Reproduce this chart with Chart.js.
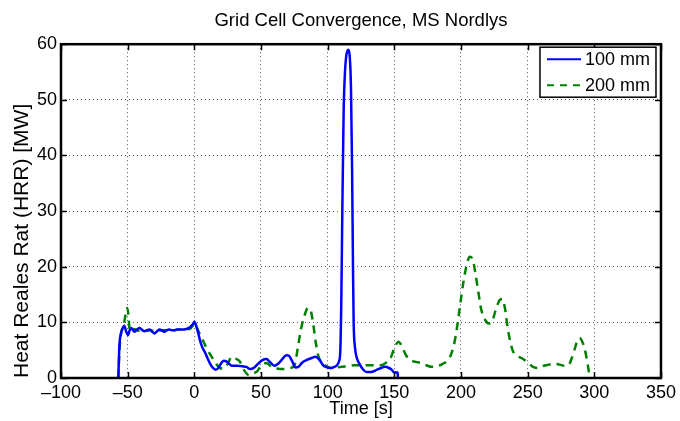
<!DOCTYPE html>
<html>
<head>
<meta charset="utf-8">
<script src="https://cdn.jsdelivr.net/npm/chart.js@4/dist/chart.umd.min.js"></script>
<style>
html,body{margin:0;padding:0;background:#fff;}
#wrap{width:680px;height:421px;}
</style>
</head>
<body>
<div id="wrap"><canvas id="c" width="680" height="421"></canvas></div>
<script>
const chartTitle = 'Grid Cell Convergence, MS Nordlys';
const xTitle = 'Time [s]';
const yTitle = 'Heat Reales Rat (HRR) [MW]';
const seriesNames = ['100 mm', '200 mm'];
const xTickValues = [-100, -50, 0, 50, 100, 150, 200, 250, 300, 350];
const yTickValues = [0, 10, 20, 30, 40, 50, 60];

const time100 = [-57, -56.5, -56, -55, -54, -52.5, -51.2, -49.8, -48.5, -47.3, -46, -44.8, -43, -41, -39, -37.3, -35.5, -33.5, -31.5, -29.9, -28, -26, -24, -22.4, -20.5, -18.7, -17, -15, -13, -11, -8.5, -6.2, -4, -2.5, -1, 0, 1.5, 3, 4, 6, 8, 10, 12, 14, 16, 18, 20, 22, 24, 26, 28, 32, 36, 39, 42, 45, 48, 51, 54, 57, 60, 63, 66, 69, 71, 73, 76, 78, 81, 84, 88, 91, 94, 97, 100, 103, 105, 107, 108.5, 109.5, 110.3, 111, 112, 113, 114, 115.5, 116.5, 117.5, 118.3, 119, 119.5, 120.5, 122, 124, 126, 129, 133, 137, 140, 143, 146, 148, 150, 152.5, 152.7];
const hrr100 = [0, 4, 6.5, 8, 8.8, 9.4, 8.4, 7.7, 8.6, 9.0, 8.6, 8.3, 8.7, 9.0, 8.6, 8.4, 8.6, 8.7, 8.3, 8.0, 8.4, 8.7, 8.5, 8.3, 8.6, 8.7, 8.6, 8.6, 8.7, 8.7, 8.7, 8.8, 9.0, 9.3, 9.7, 10.1, 9.3, 8.0, 7.0, 5.5, 4.6, 3.5, 2.5, 1.8, 1.5, 1.8, 2.6, 3.1, 3.0, 2.6, 2.2, 2.2, 2.1, 2.0, 1.6, 1.9, 2.6, 3.2, 3.4, 2.8, 2.2, 2.6, 3.4, 4.1, 4.0, 3.2, 1.9, 2.0, 2.8, 3.2, 3.6, 3.8, 3.2, 2.2, 1.9, 1.8, 2.0, 2.3, 3.0, 5, 15, 30, 48, 55, 58, 59, 58, 52, 38, 20, 10, 5.5, 3.5, 2.5, 1.7, 1.1, 1.1, 1.5, 1.8, 2.0, 1.8, 1.5, 1.0, 1.0, 0];

const time200 = [-57, -56.5, -56, -55, -53, -51.5, -50.3, -49.3, -48.5, -47, -45, -42, -39, -36, -33, -30, -27, -24, -21, -18, -15, -12, -9, -6, -3, -1.5, 0.5, 2, 3.7, 6, 8.7, 12, 16, 19, 22, 25, 28, 31, 34, 37, 41, 44, 47, 50, 54, 58, 62, 67, 72, 75, 78, 80, 83, 85, 87, 89, 91, 93, 96, 100, 104, 110, 115, 120, 125, 130, 135, 140, 144, 147, 150, 153, 156, 159, 162, 166, 170, 174, 178, 182, 186, 190, 193, 196, 199, 202, 204, 206.5, 209, 211, 213, 215, 218, 221, 223, 226, 229, 231, 233, 235, 237, 239, 242, 246, 250, 254, 258, 262, 266, 270, 274, 278, 281, 283, 285, 287, 289, 291, 293, 295, 296, 297];
const hrr200 = [0, 3, 5.5, 8, 9.5, 11.5, 12.6, 11, 8.5, 8.3, 8.8, 8.5, 8.7, 8.5, 8.6, 8.4, 8.5, 8.6, 8.6, 8.5, 8.6, 8.7, 8.7, 8.8, 8.9, 9.3, 9.8, 9.0, 8.1, 7.0, 5.6, 4.2, 2.7, 1.8, 1.7, 2.5, 3.8, 3.5, 3.0, 1.5, 0.5, 0.8, 1.2, 2.2, 2.7, 2.0, 1.7, 1.6, 1.8, 2.2, 6.0, 8.8, 11.5, 12.6, 12.3, 10.0, 6.5, 4.0, 2.7, 2.0, 1.8, 2.0, 2.1, 2.3, 2.3, 2.3, 2.3, 2.3, 2.8, 3.5, 5.3, 6.5, 5.5, 4.0, 3.2, 2.9, 2.7, 2.3, 2.0, 2.1, 2.5, 3.2, 4.5, 7.5, 12.5, 17.5, 20.0, 21.8, 21.2, 18.5, 15.5, 12.5, 10.5, 9.8, 10.0, 12.2, 14.0, 14.2, 12.5, 9.0, 6.5, 4.8, 4.0, 3.5, 2.8, 2.0, 1.8, 2.2, 2.4, 2.6, 2.4, 2.2, 2.4, 3.5, 5.0, 6.5, 7.2, 6.5, 5.0, 2.5, 1.0, 0];

const FONT = 'Liberation Sans, Arial, Helvetica, sans-serif';
const blue = '#0000ff';
const green = '#008000';

function pairs(xs, ys) { return xs.map((x, i) => ({x: x, y: ys[i]})); }
function fmt(v) { return v < 0 ? '\u2013' + Math.abs(v) : String(v); }

const frame = {
  id: 'frame',
  afterDatasetsDraw(chart) {
    const ctx = chart.ctx;
    const a = chart.chartArea;
    const xs = chart.scales.x, ys = chart.scales.y;
    ctx.save();
    ctx.strokeStyle = '#000';
    ctx.lineWidth = 1.5;
    ctx.setLineDash([]);
    const tl = 6;
    ctx.beginPath();
    xTickValues.forEach(v => {
      const px = Math.round(xs.getPixelForValue(v)) + 0.5;
      ctx.moveTo(px, a.bottom); ctx.lineTo(px, a.bottom - tl);
      ctx.moveTo(px, a.top); ctx.lineTo(px, a.top + tl);
    });
    yTickValues.forEach(v => {
      const py = Math.round(ys.getPixelForValue(v)) + 0.5;
      ctx.moveTo(a.left, py); ctx.lineTo(a.left + tl, py);
      ctx.moveTo(a.right, py); ctx.lineTo(a.right - tl, py);
    });
    ctx.stroke();
    ctx.lineWidth = 2.5;
    ctx.strokeRect(a.left, a.top, a.right - a.left, a.bottom - a.top);

    // legend
    const bx1 = a.right - 5, by0 = a.top + 3;
    const bw = 116, bh = 50;
    const bx0 = bx1 - bw;
    ctx.fillStyle = '#fff';
    ctx.fillRect(bx0, by0, bw, bh);
    ctx.lineWidth = 1.5;
    ctx.strokeStyle = '#000';
    ctx.strokeRect(bx0, by0, bw, bh);
    const rows = [
      {name: seriesNames[0], color: blue, dash: []},
      {name: seriesNames[1], color: green, dash: [7, 6]}
    ];
    rows.forEach((r, i) => {
      const cy = by0 + 12 + i * 26;
      ctx.strokeStyle = r.color;
      ctx.lineWidth = 2;
      ctx.setLineDash(r.dash);
      ctx.beginPath();
      ctx.moveTo(bx0 + 7, cy); ctx.lineTo(bx0 + 41, cy);
      ctx.stroke();
      ctx.setLineDash([]);
      ctx.fillStyle = '#000';
      ctx.font = '18px ' + FONT;
      ctx.textAlign = 'left';
      ctx.textBaseline = 'middle';
      ctx.fillText(r.name, bx0 + 45, cy + 1);
    });
    ctx.restore();
  }
};

new Chart(document.getElementById('c'), {
  type: 'line',
  data: {
    datasets: [
      {label: seriesNames[0], data: pairs(time100, hrr100), borderColor: blue, borderWidth: 2.5,
       pointRadius: 0, fill: false, cubicInterpolationMode: 'monotone'},
      {label: seriesNames[1], data: pairs(time200, hrr200), borderColor: green, borderWidth: 2.5,
       borderDash: [8, 6], pointRadius: 0, fill: false, cubicInterpolationMode: 'monotone'}
    ]
  },
  options: {
    responsive: false,
    animation: false,
    devicePixelRatio: 1,
    layout: {padding: {left: 0, right: 16, top: 0, bottom: 0}},
    plugins: {
      legend: {display: false},
      tooltip: {enabled: false},
      title: {display: true, text: chartTitle, color: '#000', fullSize: false,
              font: {family: FONT, size: 18.5, weight: 'normal'}, padding: {top: 10, bottom: 12}}
    },
    scales: {
      x: {
        type: 'linear', min: -100, max: 350,
        afterFit(s) { s.height = 43; },
        afterBuildTicks(s) { s.ticks = xTickValues.map(v => ({value: v})); },
        ticks: {color: '#000', font: {family: FONT, size: 18}, padding: 4, maxRotation: 0,
                callback: v => fmt(v)},
        grid: {color: '#555', lineWidth: 1, drawTicks: false},
        border: {display: false, dash: [1, 3]},
        title: {display: true, text: xTitle, color: '#000', font: {family: FONT, size: 18}, padding: {top: 0, bottom: 1}}
      },
      y: {
        type: 'linear', min: 0, max: 60,
        afterFit(s) { s.width = 61; },
        afterBuildTicks(s) { s.ticks = yTickValues.map(v => ({value: v})); },
        ticks: {color: '#000', font: {family: FONT, size: 18}, padding: 4, callback: v => fmt(v)},
        grid: {color: '#555', lineWidth: 1, drawTicks: false},
        border: {display: false, dash: [1, 3]},
        title: {display: true, text: yTitle, color: '#000', align: 'start',
                font: {family: FONT, size: 21}, padding: {top: 10, bottom: 0}}
      }
    }
  },
  plugins: [frame]
});
</script>
</body>
</html>
